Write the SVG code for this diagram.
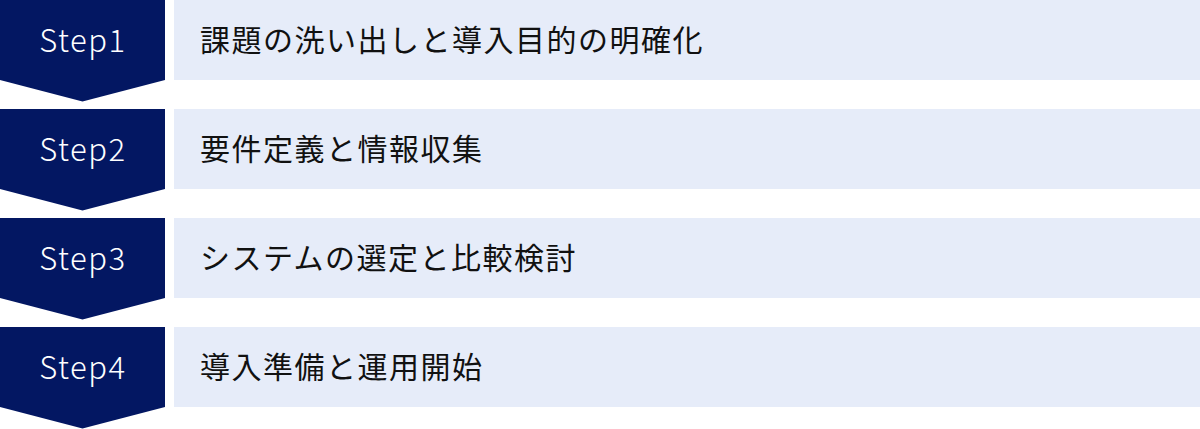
<svg xmlns="http://www.w3.org/2000/svg" width="1200" height="429" viewBox="0 0 1200 429">
<defs>
<style>
.chev{fill:#031762}
.box{fill:#E6ECF9}
.step{font-family:"Noto Sans CJK JP","Noto Sans",sans-serif;font-weight:300;font-size:31px;letter-spacing:1.5px;fill:#ffffff;text-anchor:middle}
.lbl{font-family:"Noto Sans CJK JP","Noto Sans",sans-serif;font-weight:400;font-size:30px;letter-spacing:1.5px;fill:#111111}
</style>
<path id="chevShape" d="M0 0H165V80L82.5 101.5L0 80Z"/>
</defs>
<rect width="1200" height="429" fill="#ffffff"/>
<g id="connectors"></g>
<g id="step1">
<use href="#chevShape" class="chev"/>
<rect class="box" x="174" y="0" width="1026" height="80"/>
<text class="step" x="83" y="51.5">Step1</text>
<text class="lbl" x="200" y="51">課題の洗い出しと導入目的の明確化</text>
</g>
<g id="step2" transform="translate(0,109)">
<use href="#chevShape" class="chev"/>
<rect class="box" x="174" y="0" width="1026" height="80"/>
<text class="step" x="83" y="51.5">Step2</text>
<text class="lbl" x="200" y="51">要件定義と情報収集</text>
</g>
<g id="step3" transform="translate(0,218)">
<use href="#chevShape" class="chev"/>
<rect class="box" x="174" y="0" width="1026" height="80"/>
<text class="step" x="83" y="51.5">Step3</text>
<text class="lbl" x="200" y="51">システムの選定と比較検討</text>
</g>
<g id="step4" transform="translate(0,327)">
<use href="#chevShape" class="chev"/>
<rect class="box" x="174" y="0" width="1026" height="80"/>
<text class="step" x="83" y="51.5">Step4</text>
<text class="lbl" x="200" y="51">導入準備と運用開始</text>
</g>
</svg>
